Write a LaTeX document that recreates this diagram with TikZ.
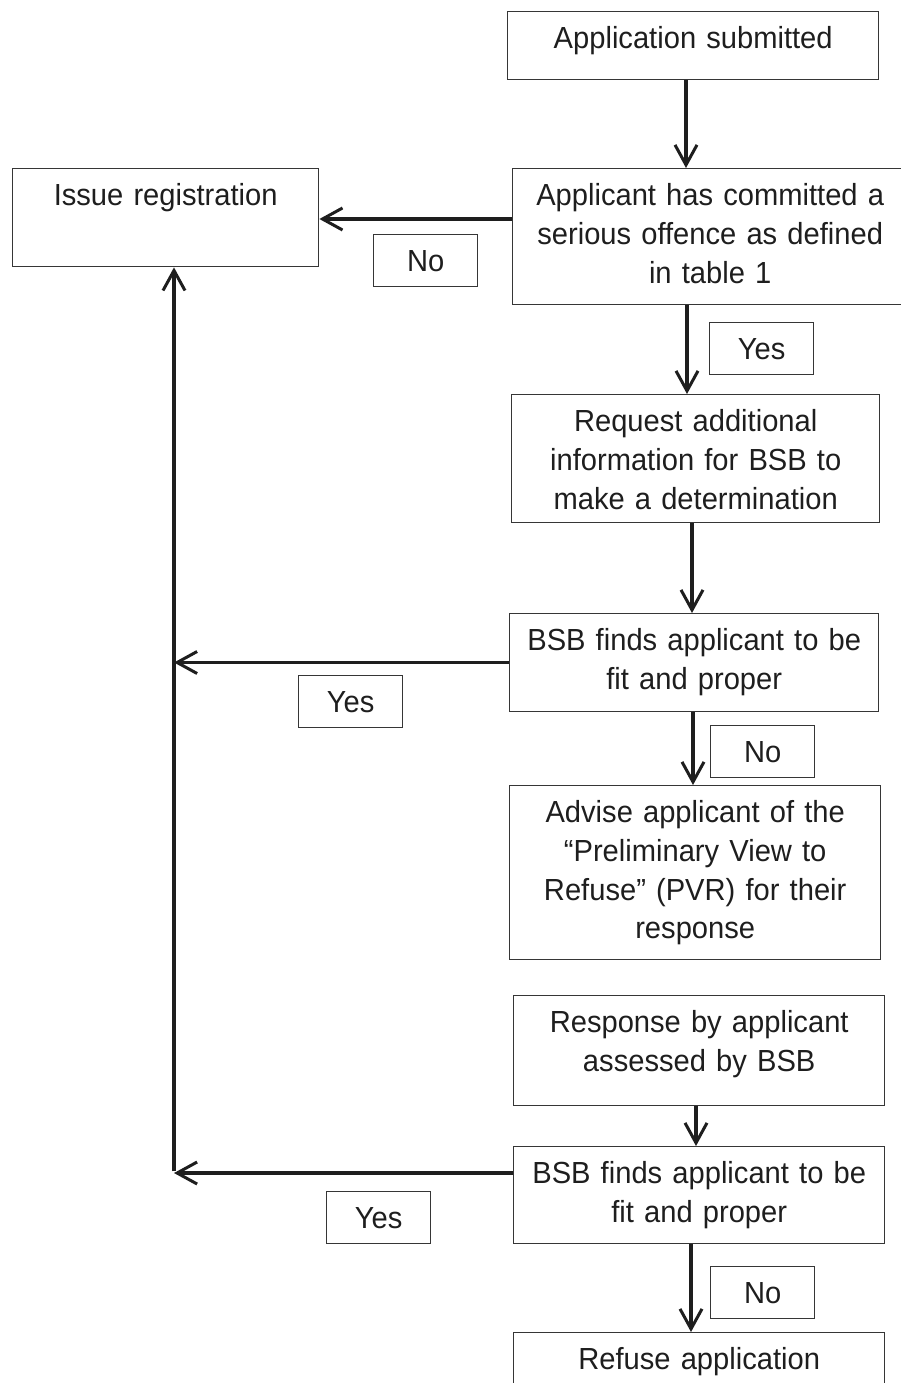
\documentclass[tikz,border=0pt]{standalone}
\usepackage{fontspec}
\setmainfont{Liberation Sans}[FakeStretch=0.955]
\usetikzlibrary{arrows.meta}
\definecolor{ink}{HTML}{1E1E1E}
\definecolor{edge}{HTML}{363636}
\begin{document}
\begin{tikzpicture}[x=1pt,y=-1pt,
  box/.style={draw=edge, line width=1.4pt, inner xsep=0pt, inner ysep=0pt,
    align=center, anchor=north west, text=ink,
    font=\fontsize{30.5}{38.7}\selectfont, text height=37pt},
  lab/.style={box, text width=104pt, text depth=15pt},
  arr/.style={draw=ink, line width=3.3pt, line cap=butt,
    -{Straight Barb[length=20pt,width=22pt,line width=3pt]}},
  spine/.style={draw=ink, line width=3.3pt}]
\clip (0,0) rectangle (901,1383);
% boxes
\node[box, text width=371pt, text depth=31pt] (sub) at (507,11) {Application submitted};
\node[box, text width=395pt, text depth=99pt] (off) at (512,168) {Applicant has committed a\\serious offence as defined\\in table 1};
\node[box, text width=306pt, text depth=61pt] (iss) at (12,168) {Issue registration};
\node[box, text width=368pt, text depth=91pt] (req) at (511,394) {Request additional\\information for BSB to\\make a determination};
\node[box, text width=369pt, text depth=61pt] (fit1) at (509,613) {BSB finds applicant to be\\fit and proper};
\node[box, text width=371pt, text depth=137pt] (adv) at (509,785) {Advise applicant of the\\“Preliminary View to\\Refuse” (PVR) for their\\response};
\node[box, text width=371pt, text depth=73pt] (resp) at (513,995) {Response by applicant\\assessed by BSB};
\node[box, text width=371pt, text depth=60pt] (fit2) at (513,1146) {BSB finds applicant to be\\fit and proper};
\node[box, text width=371pt, text depth=43pt] (ref) at (513,1332) {Refuse application};
% labels
\node[lab] (lno1) at (373,234) {No};
\node[lab] (lyes1) at (709,322) {Yes};
\node[lab] (lyes2) at (298,675) {Yes};
\node[lab] (lno2) at (710,725) {No};
\node[lab] (lyes3) at (326,1191) {Yes};
\node[lab] (lno3) at (710,1266) {No};
% guide coordinates
\coordinate (xa) at (686,0);
\coordinate (xb) at (687,0);
\coordinate (xc) at (692,0);
\coordinate (xd) at (693,0);
\coordinate (xe) at (696,0);
\coordinate (xf) at (691,0);
\coordinate (ya) at (0,219);
\coordinate (sp1) at (174,662.5);
\coordinate (sp2) at (174,1173);
% connectors
\draw[arr] (sub.south -| xa) -- (off.north -| xa);
\draw[arr] (off.west |- ya) -- (iss.east |- ya);
\draw[arr] (off.south -| xb) -- (req.north -| xb);
\draw[arr] (req.south -| xc) -- (fit1.north -| xc);
\draw[arr] (fit1.west |- sp1) -- (sp1);
\draw[arr] (fit1.south -| xd) -- (adv.north -| xd);
\draw[arr] (resp.south -| xe) -- (fit2.north -| xe);
\draw[arr] (fit2.west |- sp2) -- (sp2);
\draw[arr] ([yshift=1.65pt]sp2) -- (iss.south -| sp2);
\draw[arr] (fit2.south -| xf) -- (ref.north -| xf);
\end{tikzpicture}
\end{document}
